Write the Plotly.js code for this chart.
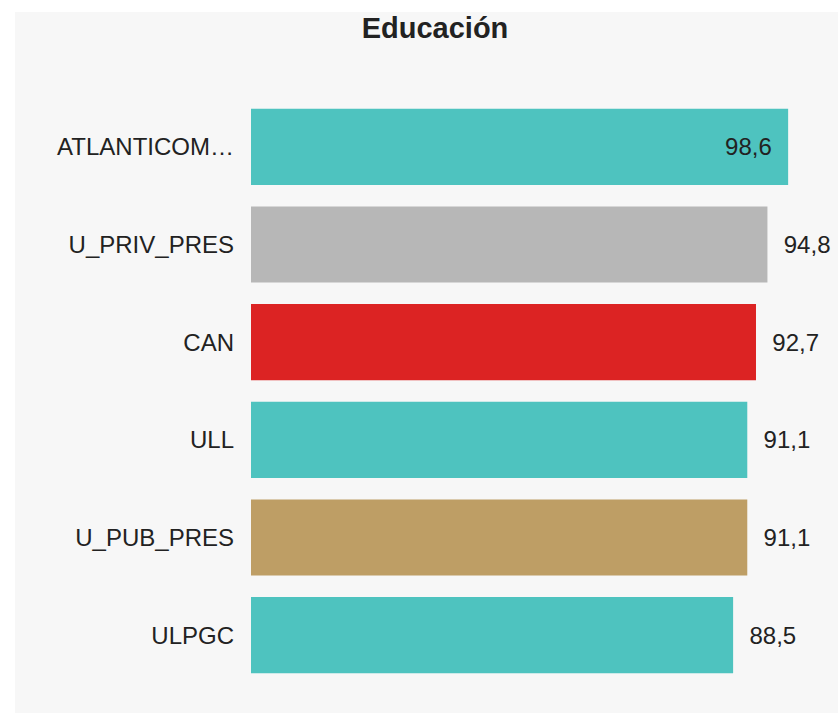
<!DOCTYPE html>
<html>
<head>
<meta charset="utf-8">
<script src="https://cdn.plot.ly/plotly-3.0.1.min.js"></script>
<style>
  html, body { margin: 0; padding: 0; background: #ffffff; overflow: hidden; }
  #chart { position: absolute; left: 15px; top: 12px; width: 840px; height: 701px; }
</style>
</head>
<body>
<div id="chart"></div>
<script>
const categories = ["ATLANTICOM…", "U_PRIV_PRES", "CAN", "ULL", "U_PUB_PRES", "ULPGC"];
const values = [98.6, 94.8, 92.7, 91.1, 91.1, 88.5];
const barColors = ["#4ec3bf", "#b7b7b7", "#dc2323", "#4ec3bf", "#be9e65", "#4ec3bf"];
const textPositions = ["inside", "outside", "outside", "outside", "outside", "outside"];
const textTemplates = textPositions.map(p => p === "inside" ? "  %{x:.1f}  " : "  %{x:.1f}");

const FONT = "Arial, 'Liberation Sans', sans-serif";

const trace = {
  type: "bar",
  orientation: "h",
  y: categories,
  x: values,
  marker: { color: barColors, line: { width: 0 } },
  texttemplate: textTemplates,
  textposition: textPositions,
  insidetextanchor: "end",
  textfont: { family: FONT, size: 24, color: "#222222" },
  insidetextfont: { family: FONT, size: 24, color: "#222222" },
  outsidetextfont: { family: FONT, size: 24, color: "#222222" },
  cliponaxis: false,
  hoverinfo: "none"
};

const layout = {
  title: {
    text: "<b>Educación</b>",
    font: { family: FONT, size: 29, color: "#222222" },
    x: 0.5, xanchor: "center", xref: "container",
    y: 0.977, yanchor: "middle", yref: "container"
  },
  separators: ",.",
  paper_bgcolor: "#f7f7f7",
  plot_bgcolor: "#f7f7f7",
  width: 840,
  height: 701,
  margin: { l: 236, r: 32, t: 86, b: 29, pad: 0 },
  bargap: 0.22,
  showlegend: false,
  xaxis: {
    range: [0, 105],
    visible: false,
    showgrid: false,
    zeroline: false,
    fixedrange: true
  },
  yaxis: {
    autorange: "reversed",
    type: "category",
    showgrid: false,
    zeroline: false,
    showline: false,
    ticks: "",
    ticklabelstandoff: 16,
    tickfont: { family: FONT, size: 24, color: "#222222" },
    fixedrange: true
  }
};

Plotly.newPlot("chart", [trace], layout, { displayModeBar: false, staticPlot: true });
</script>
</body>
</html>
